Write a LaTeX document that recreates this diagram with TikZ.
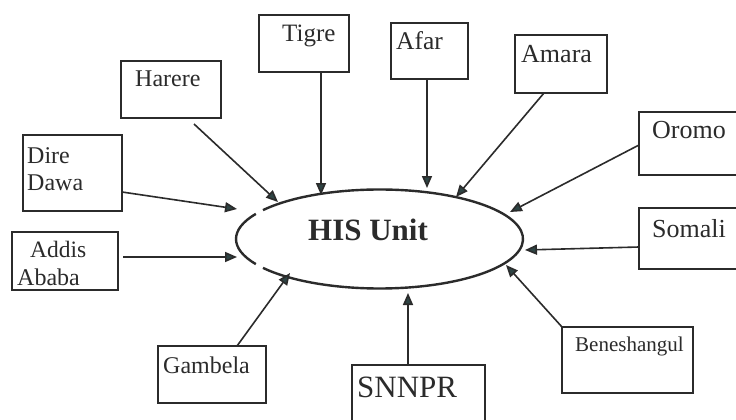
\documentclass[tikz,border=0pt]{standalone}
\usepackage{fontspec}
\setmainfont{Liberation Serif}
\usetikzlibrary{arrows.meta,calc,shapes.geometric}
\definecolor{ink}{HTML}{2B2B2B}
\definecolor{tipfill}{HTML}{2E4444}
\tikzset{
  region/.style={draw=ink, line width=2.6pt, rectangle, inner sep=0pt, outer sep=0pt},
  lbl/.style={anchor=base west, inner sep=0pt, text=ink, font=\fontsize{25}{28}\selectfont},
  feed/.style={draw=ink, line width=1.6pt, -{Triangle[length=12pt,width=10pt,fill=tipfill]}},
  rim/.style={draw=ink, line width=2.4pt},
}
\begin{document}
\begin{tikzpicture}[x=1pt,y=-1pt]
\useasboundingbox (0,0) rectangle (736,420);
\clip (0,0) rectangle (736,420);
\fill[white] (0,0) rectangle (736,420);

% central unit
\node[ellipse, minimum width=287pt, minimum height=99pt, inner sep=0pt, outer sep=0pt] (his) at (379.5,239) {};
\draw[rim] ($(his.center)+(149.5:143.5 and 49.5)$) arc[start angle=149.5, end angle=210.5, x radius=143.5, y radius=49.5];
\draw[rim] ($(his.center)+(215.7:143.5 and 49.5)$) arc[start angle=215.7, end angle=504.3, x radius=143.5, y radius=49.5];
\node[anchor=base west, inner sep=0pt, text=ink, font=\fontsize{31}{34}\selectfont\bfseries] (histext) at (308,240) {HIS Unit};

% regional boxes
\node[region, minimum width=90pt,  minimum height=57pt] (tigre)       at (304,43.5)   {};
\node[region, minimum width=100pt, minimum height=57pt] (harere)      at (171,89.5)   {};
\node[region, minimum width=99pt,  minimum height=76pt] (diredawa)    at (72.5,173)   {};
\node[region, minimum width=77pt,  minimum height=56pt] (afar)        at (429.5,51)   {};
\node[region, minimum width=92pt,  minimum height=58pt] (amara)       at (561,64)     {};
\node[region, minimum width=121pt, minimum height=63pt] (oromo)       at (699.5,143.5){};
\node[region, minimum width=121pt, minimum height=61pt] (somali)      at (699.5,238.5){};
\node[region, minimum width=131pt, minimum height=66pt] (beneshangul) at (627.5,360)  {};
\node[region, minimum width=133pt, minimum height=85pt] (snnpr)       at (418.5,407.5){};
\node[region, minimum width=108pt, minimum height=57pt] (gambela)     at (212,374.5)  {};
\node[region, minimum width=106pt, minimum height=58pt] (addis)       at (65,261)     {};

% box labels
\node[lbl] (tigre-t)   at (282,42)  {Tigre};
\node[lbl, font=\fontsize{24}{27}\selectfont] (harere-t) at (135,86) {Harere};
\node[lbl, font=\fontsize{24}{27}\selectfont] (dire-t)   at (27,163) {Dire};
\node[lbl, font=\fontsize{24}{27}\selectfont] (dawa-t)   at (27,190) {Dawa};
\node[lbl, font=\fontsize{25.5}{28}\selectfont] (afar-t) at (396,50) {Afar};
\node[lbl, font=\fontsize{26}{29}\selectfont] (amara-t)  at (521,63) {Amara};
\node[lbl, font=\fontsize{26}{29}\selectfont] (oromo-t)  at (652,138) {Oromo};
\node[lbl, font=\fontsize{26}{29}\selectfont] (somali-t) at (652,237) {Somali};
\node[lbl, font=\fontsize{21}{24}\selectfont] (bene-t)   at (575,351) {Beneshangul};
\node[lbl, font=\fontsize{31}{34}\selectfont] (snnpr-t)  at (357,397) {SNNPR};
\node[lbl, font=\fontsize{24}{27}\selectfont] (gambela-t) at (163,373) {Gambela};
\node[lbl, font=\fontsize{23.5}{27}\selectfont] (addis-t) at (30,257) {Addis};
\node[lbl, font=\fontsize{24}{27}\selectfont] (ababa-t)  at (17,285) {Ababa};

% reporting arrows into the unit
\draw[feed] ([xshift=17pt]tigre.south) -- ($(his.center)+(-58.5,-44)$);
\draw[feed] ([xshift=23pt,yshift=-6pt]harere.south) -- ($(his.center)+(-101.5,-37)$);
\draw[feed] ([yshift=-19pt]diredawa.east) -- ($(his.center)+(-142.5,-30)$);
\draw[feed] ([xshift=5pt,yshift=4pt]addis.east) -- ($(his.center)+(-142.5,18)$);
\draw[feed] ([xshift=25pt]gambela.north) -- ($(his.center)+(-89.5,34)$);
\draw[feed] ([xshift=-10.5pt]snnpr.north) -- ($(his.center)+(28.5,54)$);
\draw[feed] (beneshangul.north west) -- ($(his.center)+(126.5,26)$);
\draw[feed] ([yshift=-8.5pt]somali.west) -- ($(his.center)+(145.5,11)$);
\draw[feed] ([yshift=-1.5pt]oromo.west) -- ($(his.center)+(130.5,-27)$);
\draw[feed] ([xshift=-17pt]amara.south) -- ($(his.center)+(76.5,-42)$);
\draw[feed] ([xshift=-2.5pt]afar.south) -- ($(his.center)+(47.5,-51)$);
\end{tikzpicture}
\end{document}
